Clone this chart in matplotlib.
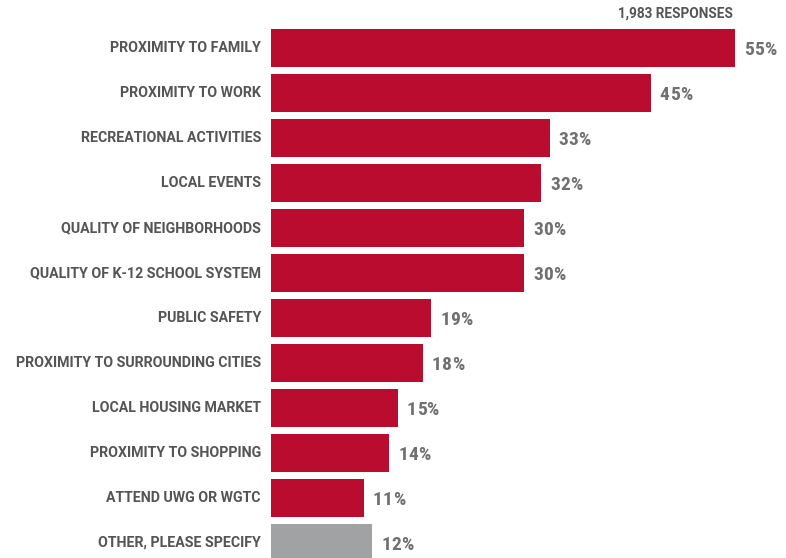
import matplotlib.pyplot as plt
from matplotlib import font_manager

categories = ['PROXIMITY TO FAMILY', 'PROXIMITY TO WORK', 'RECREATIONAL ACTIVITIES',
              'LOCAL EVENTS', 'QUALITY OF NEIGHBORHOODS', 'QUALITY OF K-12 SCHOOL SYSTEM',
              'PUBLIC SAFETY', 'PROXIMITY TO SURROUNDING CITIES', 'LOCAL HOUSING MARKET',
              'PROXIMITY TO SHOPPING', 'ATTEND UWG OR WGTC', 'OTHER, PLEASE SPECIFY']
values = [55, 45, 33, 32, 30, 30, 19, 18, 15, 14, 11, 12]
note = '1,983 RESPONSES'

red = '#BA0C2F'
gray = '#A0A2A3'
colors = [red] * 11 + [gray]


def pick_font(names):
    for name in names:
        try:
            font_manager.findfont(font_manager.FontProperties(family=name),
                                  fallback_to_default=False)
            return name
        except Exception:
            pass
    return 'DejaVu Sans'


narrow = pick_font(['Roboto Condensed', 'Liberation Sans Narrow', 'Open Sans Condensed'])

px = 8.44  # pixels per percent
step = 45.0  # pixels between bars

fig = plt.figure(figsize=(7.86, 5.58), dpi=100)
ax = fig.add_axes([271 / 786, 0, 515 / 786, 1])

ypos = list(range(len(categories)))
ax.barh(ypos, values, height=38 / step, color=colors)
ax.set_xlim(0, 515 / px)
ax.set_ylim((558 - 48) / step, -48 / step)
ax.axis('off')

for y, cat, v in zip(ypos, categories, values):
    ax.text(-10 / px, y, cat, ha='right', va='center', fontsize=10.2,
            family='Roboto', weight='bold', color='#555555')
    # condensed, letter-spaced value label drawn char by char
    chars = list(str(v)) + ['%']
    for k, ch in enumerate(chars):
        ax.annotate(ch, (v, y), xytext=((9 + 10 * k) * 0.72, -1.5),
                    textcoords='offset points', ha='left', va='center',
                    fontsize=14, family=narrow, weight='bold',
                    stretch='condensed', color='#707070')

ax.text(55 - 2 / px, -34 / step, note, ha='right', va='center', fontsize=9.8,
        family='Roboto', weight='bold', color='#555555')

fig.savefig('out.png', dpi=100)
